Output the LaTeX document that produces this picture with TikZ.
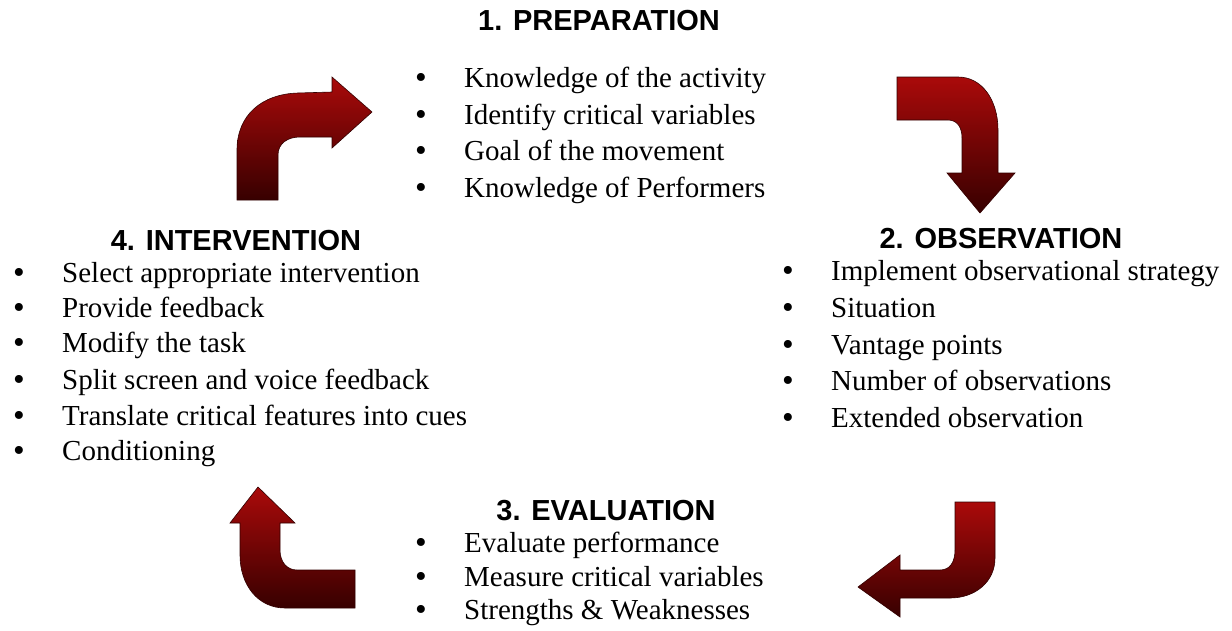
\documentclass[tikz,border=0pt]{standalone}
\usepackage{fontspec}
\setmainfont{Liberation Serif}
\newfontfamily\headfont{Liberation Sans}
\definecolor{arrtop}{RGB}{170,10,10}
\definecolor{arrbot}{RGB}{55,0,0}
\definecolor{arrline}{RGB}{50,0,0}
\newcommand{\bul}{\makebox[49pt][l]{\raisebox{-1pt}{\scalebox{1.15}{\textbullet}}}}
\begin{document}
\begin{tikzpicture}[x=1pt,y=-1pt,
  head/.style={font=\headfont\bfseries\fontsize{29}{34}\selectfont, inner sep=0pt},
  item/.style={font=\fontsize{29}{34}\selectfont, anchor=mid west, inner sep=0pt, yshift=-5pt},
  arr/.style={top color=arrtop, bottom color=arrbot, draw=arrline, line width=0.6pt}]
\fill[white] (0,0) rectangle (1232,630);
\useasboundingbox (0,0) rectangle (1232,630);

% 1. Preparation
\node[head] (h1) at (599,21) {1. PREPARATION};
\node[item] (p1) at (415,80) {\bul Knowledge of the activity};
\node[item] (p2) at (415,117) {\bul Identify critical variables};
\node[item] (p3) at (415,153) {\bul Goal of the movement};
\node[item] (p4) at (415,190) {\bul Knowledge of Performers};

% 2. Observation
\node[head] (h2) at (1001,239) {2. OBSERVATION};
\node[item] (o1) at (782,273) {\bul Implement observational strategy};
\node[item] (o2) at (782,310) {\bul Situation};
\node[item] (o3) at (782,347) {\bul Vantage points};
\node[item] (o4) at (782,383) {\bul Number of observations};
\node[item] (o5) at (782,420) {\bul Extended observation};

% 3. Evaluation
\node[head] (h3) at (606,511) {3. EVALUATION};
\node[item] (e1) at (415,545) {\bul Evaluate performance};
\node[item] (e2) at (415,579) {\bul Measure critical variables};
\node[item] (e3) at (415,612) {\bul Strengths \& Weaknesses};

% 4. Intervention
\node[head] (h4) at (236,241) {4. INTERVENTION};
\node[item] (i1) at (13,275) {\bul Select appropriate intervention};
\node[item] (i2) at (13,310) {\bul Provide feedback};
\node[item] (i3) at (13,345) {\bul Modify the task};
\node[item] (i4) at (13,382) {\bul Split screen and voice feedback};
\node[item] (i5) at (13,418) {\bul Translate critical features into cues};
\node[item] (i6) at (13,453) {\bul Conditioning};

% Arrow 4 -> 1 (top left)
\path[arr] (237,200) -- (237,150) .. controls (237,115) and (262,94) .. (298,93)
  -- (332,92) -- (332,77) -- (372,112) -- (332,148) -- (332,137) -- (300,137)
  .. controls (288,137) and (278,143) .. (278,155) -- (278,200) -- cycle;

% Arrow 1 -> 2 (top right)
\path[arr] (897,77) -- (958,77) .. controls (982,77) and (998,100) .. (998,130)
  -- (998,173) -- (1015,173) -- (980,213) -- (947,173) -- (962,173) -- (962,138)
  .. controls (962,127) and (957,120) .. (948,120) -- (897,120) -- cycle;

% Arrow 2 -> 3 (bottom right)
\path[arr] (955,502) -- (995,502) -- (995,558) .. controls (995,582) and (975,598) .. (950,598)
  -- (900,598) -- (900,617) -- (858,587) -- (900,555) -- (900,570) -- (940,570)
  .. controls (950,570) and (955,562) .. (955,550) -- cycle;

% Arrow 3 -> 4 (bottom left)
\path[arr] (258,487) -- (295,523) -- (280,523) -- (280,550)
  .. controls (280,562) and (287,570) .. (297,570) -- (355,570) -- (355,608) -- (285,608)
  .. controls (258,608) and (240,585) .. (240,555) -- (240,523) -- (230,523) -- cycle;
\end{tikzpicture}
\end{document}
